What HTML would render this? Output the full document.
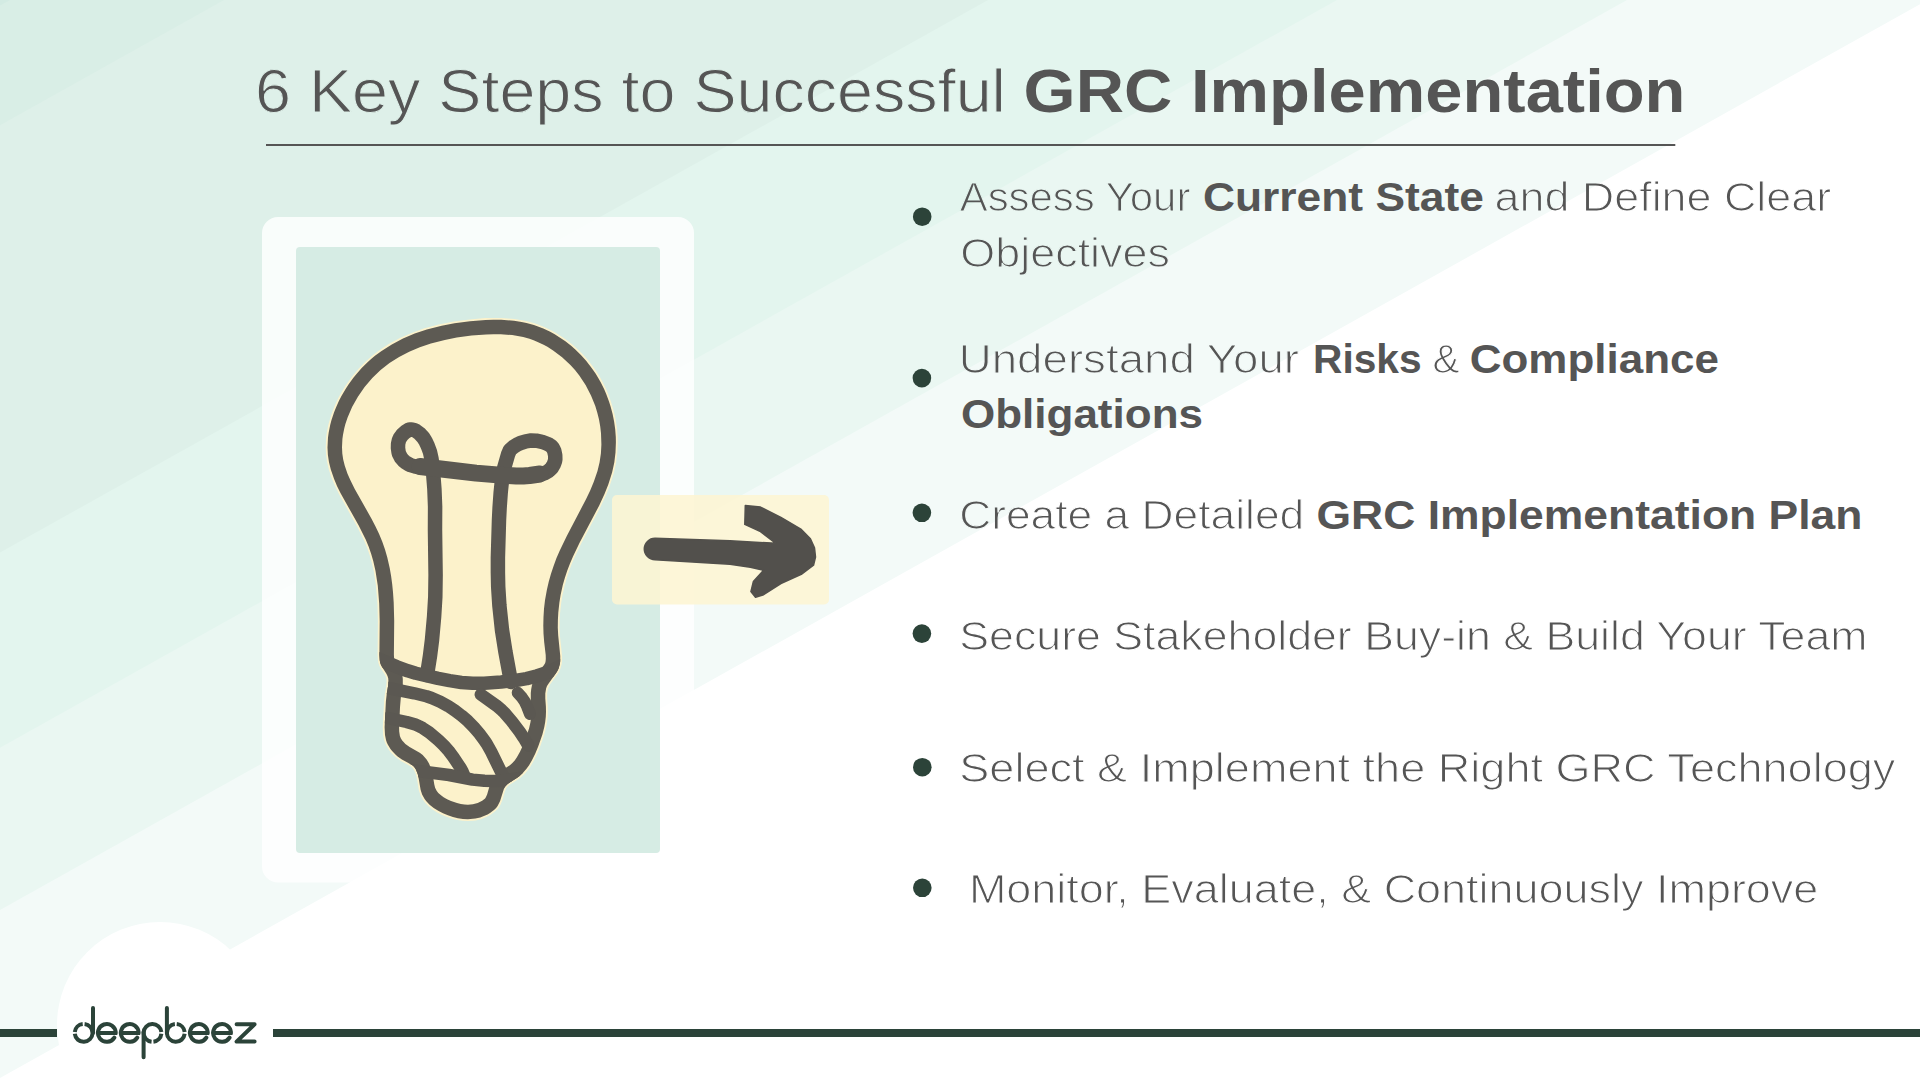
<!DOCTYPE html>
<html><head><meta charset="utf-8"><title>6 Key Steps to Successful GRC Implementation</title><style>html,body{margin:0;padding:0;background:#fff}#slide{position:relative;width:1920px;height:1080px;overflow:hidden;font-family:"Liberation Sans",sans-serif}</style></head><body><div id="slide">
<svg width="1920" height="1080" viewBox="0 0 1920 1080" style="position:absolute;left:0;top:0">
<rect width="1920" height="1080" fill="#ffffff"/>
<polygon points="0,0 1927.5,0 0,1078.1" fill="#f3faf8"/>
<polygon points="0,0 1627.0,0 0,910.0" fill="#eaf7f2"/>
<polygon points="0,0 1337.0,0 0,747.8" fill="#e3f5ee"/>
<polygon points="0,0 988.0,0 0,552.6" fill="#def0e9"/>
<polygon points="0,0 224.0,0 0,125.3" fill="#d9eee6"/>
<polygon points="0,0 10.0,0 0,5.6" fill="#d3ebe3"/>
<circle cx="160" cy="1025" r="103" fill="#ffffff"/>
<rect x="262" y="217" width="432" height="665.5" rx="16" fill="#ffffff" fill-opacity="0.82"/>
<rect x="296" y="247" width="364" height="606" rx="4" fill="#d6ece4"/>
<defs><clipPath id="bclip"><path d="M470.0,321.2 L454.5,323.3 L441.7,325.8 L426.8,329.6 L414.7,333.6 L403.0,338.5 L391.8,344.4 L381.2,351.2 L375.0,355.8 L371.1,359.1 L367.3,362.6 L361.7,368.1 L356.5,374.0 L353.2,378.1 L348.5,384.6 L345.6,389.0 L341.6,395.8 L339.1,400.5 L335.9,407.7 L334.0,412.5 L331.5,419.9 L330.2,424.9 L328.7,432.4 L328.0,437.4 L327.5,447.4 L327.9,454.9 L329.0,462.3 L330.8,469.6 L334.1,479.1 L337.1,486.2 L340.6,493.2 L358.7,525.6 L365.7,539.6 L368.7,546.7 L371.2,553.9 L373.3,561.2 L375.5,570.9 L377.8,585.8 L379.2,603.4 L379.7,621.2 L379.4,654.9 L379.7,660.0 L380.1,662.5 L380.9,664.8 L382.1,667.1 L386.4,673.7 L387.5,675.9 L388.2,678.3 L388.4,680.7 L388.1,685.8 L386.8,693.6 L385.9,701.3 L384.6,727.3 L385.0,735.1 L386.0,740.1 L386.8,742.5 L387.9,744.8 L390.5,749.0 L392.1,751.0 L395.7,754.7 L397.6,756.4 L401.9,759.4 L411.0,764.4 L413.0,765.8 L414.6,767.6 L415.9,769.6 L417.8,774.2 L418.8,779.3 L420.6,789.7 L422.1,794.5 L424.6,798.9 L426.1,801.0 L429.6,804.7 L433.7,808.0 L438.2,810.8 L443.0,813.3 L447.9,815.3 L452.9,817.0 L457.9,818.2 L462.9,819.0 L467.9,819.3 L475.4,818.6 L480.3,817.4 L482.7,816.6 L487.6,814.4 L490.0,813.1 L494.3,809.8 L496.1,808.0 L497.6,805.9 L500.0,801.3 L503.8,789.2 L504.8,787.0 L506.3,785.2 L508.1,783.6 L516.9,778.1 L519.0,776.6 L522.8,773.1 L526.1,769.3 L529.1,765.2 L531.7,760.7 L535.2,753.7 L538.2,746.5 L542.4,734.4 L544.3,727.0 L545.2,721.9 L545.8,716.8 L546.0,711.7 L545.9,706.4 L545.3,698.5 L545.3,693.4 L546.1,688.5 L547.0,686.1 L548.3,683.9 L556.1,673.0 L557.5,670.8 L558.6,668.5 L559.9,663.8 L560.2,661.3 L560.3,656.3 L558.2,635.5 L557.8,627.8 L557.9,620.1 L558.3,612.5 L559.4,602.4 L560.6,595.0 L562.8,585.1 L564.9,577.8 L567.3,570.6 L570.0,563.5 L573.0,556.4 L579.7,542.5 L599.1,505.7 L604.5,494.0 L608.3,484.5 L612.1,472.4 L614.3,462.5 L615.5,452.4 L615.9,442.2 L615.8,437.0 L615.2,429.3 L614.1,421.6 L612.6,414.0 L610.6,406.4 L609.0,401.4 L606.2,394.1 L604.2,389.3 L600.7,382.3 L598.1,377.7 L595.4,373.3 L590.9,366.9 L586.1,360.8 L580.9,355.0 L575.3,349.5 L571.4,346.1 L565.4,341.3 L561.2,338.4 L554.7,334.3 L550.2,331.8 L543.3,328.6 L538.6,326.7 L533.9,325.0 L526.5,323.0 L521.6,321.9 L514.0,320.8 L501.2,319.8 L493.4,319.7 L485.6,319.9 L470.0,321.2Z"/></clipPath></defs>
<path d="M469.8,319.4 L454.2,321.5 L438.8,324.6 L423.8,328.6 L411.7,332.9 L400.0,338.0 L388.7,344.1 L378.0,351.3 L371.9,356.0 L368.0,359.5 L364.1,363.1 L358.6,368.8 L353.4,374.9 L350.1,379.2 L345.5,385.8 L342.7,390.3 L338.7,397.3 L336.4,402.1 L333.2,409.4 L331.4,414.4 L328.4,424.5 L326.9,432.1 L326.2,437.2 L325.7,447.4 L326.1,455.1 L327.2,462.6 L329.0,470.0 L331.5,477.4 L334.4,484.6 L339.0,494.0 L357.1,526.5 L364.1,540.4 L367.0,547.4 L369.5,554.5 L371.5,561.6 L373.8,571.3 L376.0,586.0 L377.4,603.5 L377.9,621.3 L377.6,654.8 L377.9,660.1 L378.4,663.0 L379.3,665.7 L380.6,668.1 L384.8,674.5 L385.8,676.6 L386.4,678.6 L386.6,680.8 L386.3,685.6 L385.0,693.4 L384.1,701.2 L382.8,727.2 L383.2,735.4 L384.3,740.6 L385.1,743.1 L386.3,745.6 L389.0,750.0 L390.8,752.2 L394.4,756.0 L396.6,757.8 L400.9,760.9 L410.0,765.9 L411.7,767.2 L413.2,768.7 L414.3,770.5 L416.0,774.7 L417.1,779.6 L418.8,790.1 L420.5,795.2 L423.1,800.0 L424.7,802.2 L428.3,806.0 L432.6,809.4 L437.2,812.4 L442.2,814.9 L447.3,817.0 L452.5,818.7 L457.6,820.0 L462.8,820.8 L467.9,821.1 L473.0,820.8 L475.7,820.4 L480.8,819.2 L483.3,818.3 L488.4,816.1 L490.9,814.6 L495.5,811.1 L497.4,809.2 L499.1,807.0 L500.6,804.4 L502.6,799.5 L504.7,792.0 L506.3,788.0 L507.6,786.5 L509.2,785.1 L517.9,779.6 L520.1,777.9 L524.0,774.4 L527.5,770.5 L530.6,766.2 L533.3,761.6 L536.8,754.5 L539.9,747.2 L544.1,734.9 L546.0,727.4 L547.0,722.2 L547.6,717.0 L547.8,711.7 L547.7,706.4 L547.1,698.4 L547.1,693.5 L547.9,689.0 L549.8,684.8 L557.6,674.0 L559.0,671.7 L560.3,669.1 L561.7,664.0 L562.0,661.4 L562.1,656.2 L559.9,635.4 L559.6,627.7 L559.7,620.2 L560.1,612.6 L561.2,602.7 L562.4,595.3 L564.6,585.6 L566.6,578.4 L569.0,571.2 L571.6,564.2 L574.6,557.2 L581.3,543.3 L600.7,506.5 L606.1,494.7 L609.9,485.2 L613.8,472.9 L616.0,462.9 L617.3,452.6 L617.7,442.2 L617.6,436.9 L617.0,429.1 L616.3,423.9 L614.9,416.1 L613.0,408.4 L610.7,400.9 L607.9,393.4 L605.8,388.5 L602.3,381.5 L599.7,376.8 L595.4,370.1 L592.3,365.8 L587.4,359.6 L582.2,353.7 L576.5,348.2 L572.6,344.7 L566.5,339.9 L562.2,336.9 L555.6,332.7 L551.0,330.2 L544.1,326.9 L539.3,325.0 L534.4,323.3 L527.0,321.2 L521.9,320.2 L514.3,319.0 L501.3,318.0 L493.4,317.9 L485.5,318.1 L469.8,319.4Z" fill="#fcf2cb"/>
<path d="M470.0,321.2 L454.5,323.3 L441.7,325.8 L426.8,329.6 L414.7,333.6 L403.0,338.5 L391.8,344.4 L381.2,351.2 L375.0,355.8 L371.1,359.1 L367.3,362.6 L361.7,368.1 L356.5,374.0 L353.2,378.1 L348.5,384.6 L345.6,389.0 L341.6,395.8 L339.1,400.5 L335.9,407.7 L334.0,412.5 L331.5,419.9 L330.2,424.9 L328.7,432.4 L328.0,437.4 L327.5,447.4 L327.9,454.9 L329.0,462.3 L330.8,469.6 L334.1,479.1 L337.1,486.2 L340.6,493.2 L358.7,525.6 L365.7,539.6 L368.7,546.7 L371.2,553.9 L373.3,561.2 L375.5,570.9 L377.8,585.8 L379.2,603.4 L379.7,621.2 L379.4,654.9 L379.7,660.0 L380.1,662.5 L380.9,664.8 L382.1,667.1 L386.4,673.7 L387.5,675.9 L388.2,678.3 L388.4,680.7 L388.1,685.8 L386.8,693.6 L385.9,701.3 L384.6,727.3 L385.0,735.1 L386.0,740.1 L386.8,742.5 L387.9,744.8 L390.5,749.0 L392.1,751.0 L395.7,754.7 L397.6,756.4 L401.9,759.4 L411.0,764.4 L413.0,765.8 L414.6,767.6 L415.9,769.6 L417.8,774.2 L418.8,779.3 L420.6,789.7 L422.1,794.5 L424.6,798.9 L426.1,801.0 L429.6,804.7 L433.7,808.0 L438.2,810.8 L443.0,813.3 L447.9,815.3 L452.9,817.0 L457.9,818.2 L462.9,819.0 L467.9,819.3 L475.4,818.6 L480.3,817.4 L482.7,816.6 L487.6,814.4 L490.0,813.1 L494.3,809.8 L496.1,808.0 L497.6,805.9 L500.0,801.3 L503.8,789.2 L504.8,787.0 L506.3,785.2 L508.1,783.6 L516.9,778.1 L519.0,776.6 L522.8,773.1 L526.1,769.3 L529.1,765.2 L531.7,760.7 L535.2,753.7 L538.2,746.5 L542.4,734.4 L544.3,727.0 L545.2,721.9 L545.8,716.8 L546.0,711.7 L545.9,706.4 L545.3,698.5 L545.3,693.4 L546.1,688.5 L547.0,686.1 L548.3,683.9 L556.1,673.0 L557.5,670.8 L558.6,668.5 L559.9,663.8 L560.2,661.3 L560.3,656.3 L558.2,635.5 L557.8,627.8 L557.9,620.1 L558.3,612.5 L559.4,602.4 L560.6,595.0 L562.8,585.1 L564.9,577.8 L567.3,570.6 L570.0,563.5 L573.0,556.4 L579.7,542.5 L599.1,505.7 L604.5,494.0 L608.3,484.5 L612.1,472.4 L614.3,462.5 L615.5,452.4 L615.9,442.2 L615.8,437.0 L615.2,429.3 L614.1,421.6 L612.6,414.0 L610.6,406.4 L609.0,401.4 L606.2,394.1 L604.2,389.3 L600.7,382.3 L598.1,377.7 L595.4,373.3 L590.9,366.9 L586.1,360.8 L580.9,355.0 L575.3,349.5 L571.4,346.1 L565.4,341.3 L561.2,338.4 L554.7,334.3 L550.2,331.8 L543.3,328.6 L538.6,326.7 L533.9,325.0 L526.5,323.0 L521.6,321.9 L514.0,320.8 L501.2,319.8 L493.4,319.7 L485.6,319.9 L470.0,321.2Z" fill="#5d5a53"/>
<path d="M471.6,335.6 L456.8,337.6 L444.8,339.9 L430.9,343.5 L419.8,347.2 L409.2,351.7 L399.1,356.9 L389.5,363.0 L380.6,370.0 L372.3,378.1 L364.6,387.0 L357.9,396.7 L352.1,407.0 L347.6,417.5 L345.4,424.0 L344.3,428.3 L343.0,434.7 L342.4,439.0 L342.0,447.3 L342.3,453.5 L343.2,459.5 L344.7,465.5 L347.5,473.7 L350.3,480.1 L354.6,488.7 L371.5,518.7 L375.4,526.2 L379.0,533.8 L382.3,541.7 L385.0,549.6 L387.3,557.6 L389.7,568.0 L391.1,576.0 L392.2,584.2 L393.0,592.2 L393.7,602.6 L394.2,621.1 L393.9,654.8 L394.1,658.2 L394.6,659.9 L398.6,665.9 L401.0,670.7 L402.4,675.4 L402.8,679.1 L402.8,684.8 L400.8,698.1 L400.0,707.2 L399.1,727.5 L399.2,731.6 L399.9,735.9 L400.8,738.2 L402.2,740.5 L405.4,743.9 L409.6,747.1 L419.7,752.8 L422.7,755.1 L426.8,759.7 L429.0,763.5 L431.5,769.6 L432.6,774.1 L434.3,784.5 L435.1,787.7 L436.6,790.8 L438.3,792.9 L440.7,795.1 L443.6,797.2 L447.1,799.2 L451.0,800.9 L457.0,803.0 L460.8,804.0 L464.5,804.6 L467.9,804.7 L472.9,804.3 L477.7,803.0 L482.2,800.8 L485.1,798.5 L486.0,797.0 L487.2,794.3 L490.0,784.5 L492.6,779.3 L495.8,775.2 L498.6,772.7 L502.0,770.2 L509.9,765.2 L512.4,763.0 L514.7,760.4 L516.9,757.3 L520.0,751.8 L522.9,745.6 L525.5,739.0 L529.1,728.2 L530.5,721.9 L531.1,717.7 L531.5,709.4 L530.8,699.1 L530.8,693.0 L531.2,689.2 L532.0,685.1 L533.5,680.8 L535.5,677.0 L538.0,673.1 L544.0,665.0 L545.2,662.9 L545.6,661.3 L545.8,658.7 L545.7,655.0 L544.2,642.3 L543.5,633.6 L543.3,625.4 L543.5,617.0 L544.0,608.7 L545.0,600.3 L546.9,589.7 L548.8,581.4 L551.0,573.7 L553.6,565.9 L556.5,558.1 L559.8,550.4 L566.8,535.9 L586.0,499.3 L590.2,490.5 L593.8,481.7 L597.5,470.9 L599.6,462.3 L600.9,453.5 L601.4,444.5 L601.0,433.2 L600.2,426.3 L599.0,419.5 L597.3,412.8 L595.3,406.1 L591.0,395.4 L585.6,385.1 L579.3,375.5 L575.0,370.1 L570.4,365.0 L562.1,357.2 L553.1,350.4 L547.4,346.8 L543.6,344.7 L537.6,341.9 L533.6,340.3 L529.5,338.8 L523.2,337.1 L512.2,335.1 L500.7,334.3 L493.6,334.2 L486.3,334.4 L471.6,335.6Z" fill="#fcf2cb"/>
<g clip-path="url(#bclip)"><path d="M427.0,675.0 L430.0,655.8 L432.0,640.0 L434.1,616.6 L435.3,596.8 L435.6,575.0 L435.0,530.0 L435.1,506.7 L434.4,489.0 L433.3,475.1 L432.7,469.1 L432.4,466.3 L432.2,463.7 L431.5,458.9 L430.0,452.0 L427.5,445.3 L425.5,441.1 L423.2,437.5 L419.3,433.3 L416.2,431.1 L414.6,430.3 L411.5,429.4 L410.0,429.5 L408.5,430.0 L405.3,432.0 L402.2,434.9 L399.8,438.3 L399.0,440.0 L398.1,443.8 L398.0,448.0 L398.6,452.3 L399.2,454.2 L401.0,457.6 L403.4,460.5 L404.9,461.8 L408.5,464.1 L410.6,465.1 L415.6,466.7 L418.5,467.2 L421.5,467.5 L424.8,467.8 L432.0,468.3 L435.9,468.6 L440.0,469.0 L469.7,472.9 L490.4,474.8 L500.9,475.5 L506.1,475.7 L515.7,476.0 L527.7,475.8 L534.4,475.4 L540.2,474.5 L545.0,473.0 L548.9,470.7 L551.8,467.8 L553.8,464.4 L555.0,461.0 L555.3,459.2 L555.2,455.2 L554.3,451.1 L553.5,449.2 L552.4,447.4 L551.0,446.0 L549.3,444.8 L547.1,443.7 L541.9,441.8 L536.3,440.7 L531.0,440.5 L525.9,441.3 L520.6,443.0 L518.1,444.1 L513.7,446.7 L510.6,449.4 L509.5,450.9 L508.1,454.3 L504.3,467.5 L502.9,473.9 L502.4,476.7 L502.0,480.0 L500.7,492.5 L499.6,508.1 L499.0,520.0 L497.9,557.4 L497.9,572.8 L498.2,586.7 L499.4,605.5 L502.0,630.0 L505.4,651.6 L511.0,682.0" fill="none" stroke="#5b5852" stroke-width="14.5" stroke-linecap="round" stroke-linejoin="round"/><path d="M420.0,466.5 L476.1,473.1 L503.4,475.4 L516.3,476.0 L523.4,475.9 L529.5,475.5 L540.0,474.0" fill="none" stroke="#5b5852" stroke-width="17.0" stroke-linecap="round" stroke-linejoin="round"/><path d="M376.0,658.0 L396.9,666.8 L407.8,670.8 L415.8,673.2 L438.0,678.4 L449.6,680.7 L461.4,682.5 L472.6,683.3 L484.2,683.2 L501.1,682.0 L515.4,680.5 L526.6,678.6 L536.6,676.0 L543.6,673.8 L551.1,670.8 L566.0,664.0" fill="none" stroke="#5b5852" stroke-width="13.5" stroke-linecap="round" stroke-linejoin="round"/><path d="M388.0,688.0 L414.3,693.3 L426.5,696.3 L431.6,698.0 L440.2,701.7 L447.9,705.9 L454.8,710.5 L461.5,715.6 L467.9,721.1 L473.8,727.1 L479.3,733.5 L484.3,740.2 L486.7,743.8 L491.2,751.8 L506.0,782.0" fill="none" stroke="#5b5852" stroke-width="12.5" stroke-linecap="round" stroke-linejoin="round"/><path d="M388.0,718.0 L406.6,722.0 L415.4,724.6 L419.2,726.2 L422.7,728.1 L429.3,732.5 L438.5,740.3 L443.9,745.5 L448.7,750.9 L453.1,756.7 L460.8,768.3 L462.3,771.0 L464.0,775.0" fill="none" stroke="#5b5852" stroke-width="12.5" stroke-linecap="round" stroke-linejoin="round"/><path d="M480.8,694.5 L496.4,705.6 L501.9,710.3 L504.3,712.7 L511.5,721.0 L519.5,731.5 L523.8,737.9 L528.3,745.5" fill="none" stroke="#5b5852" stroke-width="12.5" stroke-linecap="round" stroke-linejoin="round"/><path d="M517.7,692.8 L522.0,697.6 L524.8,701.6 L527.1,706.5 L530.0,714.0" fill="none" stroke="#5b5852" stroke-width="12.0" stroke-linecap="round" stroke-linejoin="round"/><path d="M410.0,770.0 L449.1,775.0 L472.5,779.6 L484.4,780.8 L492.8,781.1 L501.3,780.8 L507.5,780.0 L520.0,778.0" fill="none" stroke="#5b5852" stroke-width="12.5" stroke-linecap="round" stroke-linejoin="round"/></g>
<rect x="612" y="495" width="217" height="109.5" rx="5" fill="#fdf5d3" fill-opacity="0.88"/>
<path d="M730,540.7 L775.8,543.3 L760.5,531.6 L744.8,524.4 L745.3,505.6 L760.5,507.1 L780.9,517.3 L801.3,529.5 L810.4,538.7 L814.5,547.9 L815.5,557.0 L813.5,565.2 L801.3,574.3 L780.9,583.5 L763.6,594.7 L755.5,597.2 L750.9,591.6 L753.4,581.5 L763.6,570.3 L750.4,567.2 L730,564.2 L655,559.7 A10.7,10.7 0 0 1 655,538.3 Z" fill="#52504c" stroke="#52504c" stroke-width="1.5" stroke-linejoin="round"/>
<rect x="266" y="144" width="1409.3" height="2" fill="#555555"/>
<circle cx="922.2" cy="216.7" r="9.3" fill="#2c4339"/>
<circle cx="921.9" cy="378.1" r="9.3" fill="#2c4339"/>
<circle cx="921.9" cy="512.8" r="9.3" fill="#2c4339"/>
<circle cx="921.9" cy="633.6" r="9.3" fill="#2c4339"/>
<circle cx="922.3" cy="767.2" r="9.3" fill="#2c4339"/>
<circle cx="922.3" cy="887.8" r="9.3" fill="#2c4339"/>
<text transform="translate(1023.62,112.20) scale(1.0884,1)" font-family="Liberation Sans, sans-serif" font-size="61.5" font-weight="bold" fill="#555555">GRC Implementation</text>
<text transform="translate(1202.92,210.80) scale(1.0765,1)" font-family="Liberation Sans, sans-serif" font-size="41.2" font-weight="bold" fill="#555555">Current State</text>
<text transform="translate(1313.02,372.90) scale(0.9878,1)" font-family="Liberation Sans, sans-serif" font-size="41.2" font-weight="bold" fill="#555555">Risks</text>
<text transform="translate(1469.73,372.90) scale(1.0676,1)" font-family="Liberation Sans, sans-serif" font-size="41.2" font-weight="bold" fill="#555555">Compliance</text>
<text transform="translate(960.93,428.40) scale(1.0684,1)" font-family="Liberation Sans, sans-serif" font-size="41.2" font-weight="bold" fill="#555555">Obligations</text>
<text transform="translate(1316.52,528.90) scale(1.0792,1)" font-family="Liberation Sans, sans-serif" font-size="41.2" font-weight="bold" fill="#555555">GRC Implementation Plan</text>
<mask id="mt" maskUnits="userSpaceOnUse" x="0" y="0" width="1920" height="1080"><text transform="translate(255.10,112.20) scale(1.0512,1)" font-family="Liberation Sans, sans-serif" font-size="61.5" fill="#fff" stroke="#000" stroke-width="1.10">6 Key Steps to Successful</text></mask>
<mask id="mb" maskUnits="userSpaceOnUse" x="0" y="0" width="1920" height="1080"><text transform="translate(959.70,210.80) scale(1.0176,1)" font-family="Liberation Sans, sans-serif" font-size="41.2" fill="#fff" stroke="#000" stroke-width="1.20">Assess Your</text><text transform="translate(1494.51,210.80) scale(1.0893,1)" font-family="Liberation Sans, sans-serif" font-size="41.2" fill="#fff" stroke="#000" stroke-width="1.20">and Define Clear</text><text transform="translate(960.31,266.70) scale(1.0903,1)" font-family="Liberation Sans, sans-serif" font-size="41.2" fill="#fff" stroke="#000" stroke-width="1.20">Objectives</text><text transform="translate(958.67,372.90) scale(1.1090,1)" font-family="Liberation Sans, sans-serif" font-size="41.2" fill="#fff" stroke="#000" stroke-width="1.20">Understand Your</text><text transform="translate(1432.42,372.90) scale(0.9846,1)" font-family="Liberation Sans, sans-serif" font-size="41.2" fill="#fff" stroke="#000" stroke-width="1.20">&amp;</text><text transform="translate(959.15,528.90) scale(1.0767,1)" font-family="Liberation Sans, sans-serif" font-size="41.2" fill="#fff" stroke="#000" stroke-width="1.20">Create a Detailed</text><text transform="translate(959.32,650.30) scale(1.0847,1)" font-family="Liberation Sans, sans-serif" font-size="41.2" fill="#fff" stroke="#000" stroke-width="1.20">Secure Stakeholder Buy-in &amp; Build Your Team</text><text transform="translate(959.31,781.50) scale(1.0942,1)" font-family="Liberation Sans, sans-serif" font-size="41.2" fill="#fff" stroke="#000" stroke-width="1.20">Select &amp; Implement the Right GRC Technology</text><text transform="translate(968.93,902.70) scale(1.0911,1)" font-family="Liberation Sans, sans-serif" font-size="41.2" fill="#fff" stroke="#000" stroke-width="1.20">Monitor, Evaluate, &amp; Continuously Improve</text></mask>
<rect x="200" y="40" width="900" height="100" fill="#555555" mask="url(#mt)"/>
<rect x="940" y="160" width="980" height="780" fill="#555555" mask="url(#mb)"/>
<rect x="0" y="1029" width="57" height="8" fill="#2b4339"/>
<rect x="273" y="1029" width="1647" height="8" fill="#2b4339"/>
<path d="M84.58,1024.05 A8.90,8.90 0 1 1 74.80,1033.83 M74.80,1031.97 A8.90,8.90 0 0 1 82.72,1024.05 M97.90,1032.90 L117.20,1032.90 M120.80,1032.90 L140.10,1032.90 M151.57,1041.75 A8.90,8.90 0 1 1 161.35,1031.97 M161.35,1033.83 A8.90,8.90 0 0 1 153.43,1041.75 M176.73,1024.05 A8.90,8.90 0 0 1 184.65,1031.97 M184.65,1033.83 A8.90,8.90 0 1 1 174.87,1024.05 M189.90,1032.90 L209.20,1032.90 M213.10,1032.90 L232.40,1032.90" fill="none" stroke="#2b4339" stroke-width="4" stroke-linecap="butt"/><path d="M93,1008 L93,1033 M114.35,1037.62 A8.90,8.90 0 1 1 115.70,1032.90 M137.25,1037.62 A8.90,8.90 0 1 1 138.60,1032.90 M143.6,1032 L143.6,1057.3 M166.9,1008 L166.9,1033 M206.35,1037.62 A8.90,8.90 0 1 1 207.70,1032.90 M229.55,1037.62 A8.90,8.90 0 1 1 230.90,1032.90 M236.6,1024.2 L254.6,1024.2 L236.6,1041.6 L254.6,1041.6" fill="none" stroke="#2b4339" stroke-width="4" stroke-linecap="round" stroke-linejoin="round"/>
</svg>
</div></body></html>
